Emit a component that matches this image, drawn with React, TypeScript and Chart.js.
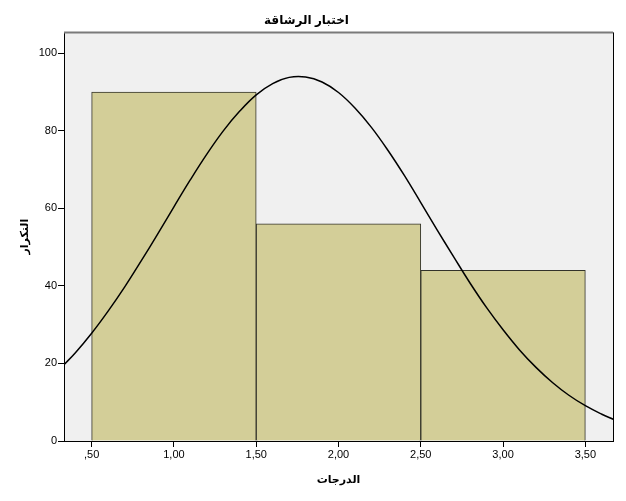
import React, { useEffect, useRef } from "react";
import { Chart, registerables } from "chart.js";

Chart.register(...registerables);

// Histogram bins (centers) and frequencies
const binCenters = [1, 2, 3];
const frequencies = [90, 56, 44];

// Normal curve (x, frequency)
const curveX = [0.33, 0.4, 0.5, 0.6, 0.7, 0.8, 0.9, 1.0, 1.1, 1.2, 1.3, 1.4, 1.5, 1.6, 1.7, 1.8, 1.9, 2.0, 2.1, 2.2, 2.3, 2.4, 2.5, 2.6, 2.7, 2.8, 2.9, 3.0, 3.1, 3.2, 3.3, 3.4, 3.5, 3.6, 3.67];
const curveY = [19.6, 22.7, 27.8, 33.5, 39.7, 46.4, 53.3, 60.4, 67.4, 74.0, 80.0, 85.1, 89.3, 92.2, 93.8, 93.9, 92.6, 89.9, 85.9, 80.9, 75.0, 68.5, 61.5, 54.4, 47.5, 40.7, 34.4, 28.7, 23.5, 19.0, 15.1, 11.8, 9.1, 6.9, 5.6];

// Axis ticks and ranges
const xTickValues = [0.5, 1, 1.5, 2, 2.5, 3, 3.5];
const yTickValues = [0, 20, 40, 60, 80, 100];
const xMin = 0.332;
const xMax = 3.668;
const yMax = 105.4;

const titleText = "اختبار الرشاقة";
const xTitle = "الدرجات";
const yTitle = "التكرار";

const FONT = "Arial, 'Liberation Sans', 'DejaVu Sans', sans-serif";

const fmt = (v: number) => {
  const s = Number(v).toFixed(2).replace(".", ",");
  return s.startsWith("0") ? s.slice(1) : s;
};

const plotBg = {
  id: "plotBg",
  beforeDraw(chart: any) {
    const { ctx, chartArea, width, height } = chart;
    ctx.save();
    ctx.fillStyle = "#ffffff";
    ctx.fillRect(0, 0, width, height);
    ctx.fillStyle = "#F0F0F0";
    ctx.fillRect(chartArea.left, chartArea.top, chartArea.right - chartArea.left, chartArea.bottom - chartArea.top);
    ctx.restore();
  },
  afterDraw(chart: any) {
    const { ctx, chartArea } = chart;
    ctx.save();
    ctx.strokeStyle = "#7a7a7a";
    ctx.lineWidth = 2;
    ctx.beginPath();
    ctx.moveTo(chartArea.left, chartArea.top);
    ctx.lineTo(chartArea.right, chartArea.top);
    ctx.stroke();
    ctx.strokeStyle = "#000000";
    ctx.lineWidth = 1;
    ctx.beginPath();
    ctx.moveTo(chartArea.right + 0.5, chartArea.top);
    ctx.lineTo(chartArea.right + 0.5, chartArea.bottom);
    ctx.stroke();
    ctx.restore();
  },
};

export default function App() {
  const ref = useRef<HTMLCanvasElement>(null);
  useEffect(() => {
    document.body.style.margin = "0";
    const canvas = ref.current;
    if (!canvas) return;
    const chart = new Chart(canvas, {
      type: "bar",
      data: {
        datasets: [
          {
            type: "line",
            data: curveX.map((x, i) => ({ x, y: curveY[i] })),
            borderColor: "#000000",
            borderWidth: 1.5,
            pointRadius: 0,
            tension: 0.4,
            fill: false,
            order: 0,
          } as any,
          {
            type: "bar",
            data: binCenters.map((x, i) => ({ x, y: frequencies[i] })),
            backgroundColor: "#D3CE98",
            borderColor: "#33332a",
            borderWidth: 1,
            barThickness: "flex",
            barPercentage: 1,
            categoryPercentage: 1,
            order: 1,
          } as any,
        ],
      },
      options: {
        animation: false,
        responsive: false,
        devicePixelRatio: 1,
        layout: { padding: { left: 0, right: 13, top: 0, bottom: 0 } },
        plugins: {
          legend: { display: false },
          tooltip: { enabled: false },
          title: {
            display: true,
            text: titleText,
            color: "#000000",
            font: { family: FONT, size: 12, weight: "bold", lineHeight: 1.2 },
            padding: { top: 13, bottom: 5 },
          },
        },
        scales: {
          x: {
            type: "linear",
            position: "bottom",
            offset: false,
            min: xMin,
            max: xMax,
            afterBuildTicks: (scale: any) => {
              scale.ticks = xTickValues.map((v) => ({ value: v }));
            },
            afterFit: (scale: any) => {
              scale.height = 60;
            },
            ticks: {
              callback: (v: any) => fmt(v),
              color: "#000000",
              font: { family: FONT, size: 11 },
              padding: 1,
              maxRotation: 0,
              autoSkip: false,
            },
            grid: { offset: false, drawOnChartArea: false, drawTicks: true, tickLength: 6, color: "#000000" },
            border: { display: true, color: "#000000", width: 1 },
            title: {
              display: true,
              text: xTitle,
              color: "#000000",
              font: { family: FONT, size: 11, weight: "bold", lineHeight: 1.2 },
              padding: { top: 0, bottom: 14 },
            },
          },
          y: {
            type: "linear",
            min: 0,
            max: yMax,
            afterBuildTicks: (scale: any) => {
              scale.ticks = yTickValues.map((v) => ({ value: v }));
            },
            afterFit: (scale: any) => {
              scale.width = 64;
            },
            ticks: {
              color: "#000000",
              font: { family: FONT, size: 11 },
              padding: 1,
            },
            grid: { drawOnChartArea: false, drawTicks: true, tickLength: 6, color: "#000000" },
            border: { display: true, color: "#000000", width: 1 },
            title: {
              display: true,
              text: yTitle,
              color: "#000000",
              font: { family: FONT, size: 11, weight: "bold", lineHeight: 1.2 },
              padding: { top: 18, bottom: 0 },
            },
          },
        },
      } as any,
      plugins: [plotBg],
    });
    return () => chart.destroy();
  }, []);
  return (
    <div style={{ width: 626, height: 501 }}>
      <canvas ref={ref} width={626} height={501} />
    </div>
  );
}
